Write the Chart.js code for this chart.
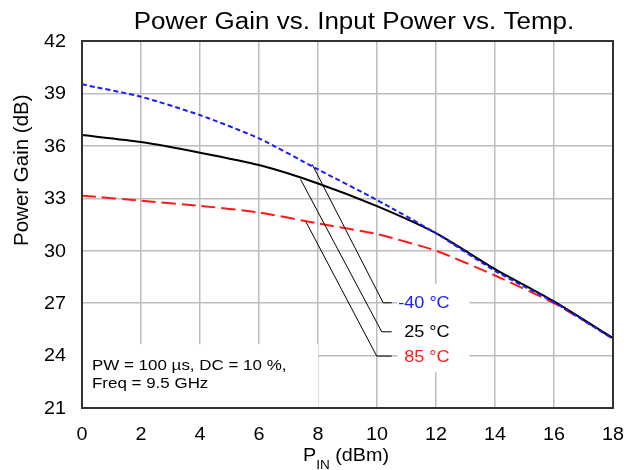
<!DOCTYPE html>
<html>
<head>
<meta charset="utf-8">
<script src="https://cdn.jsdelivr.net/npm/chart.js@4.4.1/dist/chart.umd.min.js"></script>
<style>
html,body{margin:0;padding:0;background:#fff;}
#wrap{width:640px;height:470px;position:relative;}
</style>
</head>
<body>
<div id="wrap"><canvas id="c" width="640" height="470"></canvas></div>
<script>
// ---- data ----
const pinValues = [0, 2, 4, 6, 8, 10, 12, 14, 16, 18];
const gainMinus40 = [39.52, 38.81, 37.76, 36.43, 34.65, 32.9, 31.0, 28.85, 27.05, 24.95];
const gain25 = [36.62, 36.22, 35.61, 34.9, 33.85, 32.55, 31.0, 28.95, 27.1, 25.0];
const gain85 = [33.15, 32.86, 32.57, 32.19, 31.56, 30.95, 30.0, 28.58, 27.0, 25.0];
const seriesLabels = ['-40 °C', '25 °C', '85 °C'];
const xTicks = [0, 2, 4, 6, 8, 10, 12, 14, 16, 18];
const yTicks = [21, 24, 27, 30, 33, 36, 39, 42];
const titleText = 'Power Gain vs. Input Power vs. Temp.';
const yTitle = 'Power Gain (dB)';
const noteLines = ['PW = 100 µs, DC = 10 %,', 'Freq = 9.5 GHz'];

const FONT = '"Liberation Sans", Arial, sans-serif';
const SX = 1.13; // horizontal text stretch seen in the reference
const pts = ys => pinValues.map((x, i) => ({x: x, y: ys[i]}));

function txt(ctx, s, x, y, align, font, color) {
  ctx.save();
  ctx.translate(x, y);
  ctx.scale(SX, 1);
  ctx.font = font;
  ctx.fillStyle = color || '#000';
  ctx.textAlign = align;
  ctx.fillText(s, 0, 0);
  const w = ctx.measureText(s).width * SX;
  ctx.restore();
  return w;
}

const overlay = {
  id: 'overlay',
  beforeDatasetsDraw(chart) {
    const {ctx} = chart;
    const xs = chart.scales.x, ys = chart.scales.y;
    ctx.save();
    ctx.fillStyle = '#ffffff';
    // legend label box
    const lx0 = xs.getPixelForValue(10.69), lx1 = xs.getPixelForValue(13.13);
    const ly0 = ys.getPixelForValue(28.1), ly1 = ys.getPixelForValue(23.05);
    ctx.fillRect(lx0, ly0, lx1 - lx0, ly1 - ly0);
    // note box
    const nx0 = xs.getPixelForValue(0) + 1, nx1 = xs.getPixelForValue(8.0);
    const ny0 = ys.getPixelForValue(24.65), ny1 = ys.getPixelForValue(21) - 1;
    ctx.fillRect(nx0, ny0, nx1 - nx0, ny1 - ny0);
    ctx.restore();
  },
  afterDatasetsDraw(chart) {
    const {ctx, chartArea: a} = chart;
    const xs = chart.scales.x, ys = chart.scales.y;
    const P = (x, y) => [xs.getPixelForValue(x), ys.getPixelForValue(y)];
    ctx.save();
    // frame
    ctx.strokeStyle = '#333333';
    ctx.lineWidth = 2;
    ctx.strokeRect(a.left, a.top, a.right - a.left, a.bottom - a.top);
    // leader lines
    const leaders = [
      [[7.8, 34.95], [10.21, 27.02], [10.5, 27.02]],
      [[7.41, 34.08], [10.16, 25.36], [10.5, 25.36]],
      [[7.59, 31.66], [9.99, 23.97], [10.5, 23.97]]
    ];
    ctx.strokeStyle = '#000';
    ctx.lineWidth = 1;
    leaders.forEach(l => {
      ctx.beginPath();
      l.forEach((p, i) => {
        const [px, py] = P(p[0], p[1]);
        if (i === 0) ctx.moveTo(px, py); else ctx.lineTo(px, py);
      });
      ctx.stroke();
    });
    // labels
    ctx.textBaseline = 'middle';
    const labCol = ['#1a1aff', '#000000', '#ff1a1a'];
    const labPos = [[10.72, 27.02], [10.92, 25.36], [10.92, 23.97]];
    seriesLabels.forEach((t, i) => {
      const [px, py] = P(labPos[i][0], labPos[i][1]);
      txt(ctx, t, px, py + 1, 'left', '16px ' + FONT, labCol[i]);
    });
    // note
    ctx.textBaseline = 'alphabetic';
    const y24 = ys.getPixelForValue(24);
    txt(ctx, noteLines[0], a.left + 10, y24 + 14, 'left', '15px ' + FONT);
    txt(ctx, noteLines[1], a.left + 10, y24 + 32, 'left', '15px ' + FONT);
    ctx.restore();
  },
  afterDraw(chart) {
    const {ctx, chartArea: a} = chart;
    const xs = chart.scales.x, ys = chart.scales.y;
    ctx.save();
    ctx.textBaseline = 'alphabetic';
    // tick labels
    xTicks.forEach(v => txt(ctx, String(v), xs.getPixelForValue(v), 440, 'center', '17.5px ' + FONT));
    ctx.textBaseline = 'middle';
    yTicks.forEach(v => txt(ctx, String(v), 66, ys.getPixelForValue(v) + 1, 'right', '17.5px ' + FONT));
    ctx.textBaseline = 'alphabetic';
    // title
    txt(ctx, titleText, 354, 29, 'center', '23px ' + FONT);
    // y title
    ctx.save();
    ctx.translate(28, 246);
    ctx.rotate(-Math.PI / 2);
    ctx.font = '20.5px ' + FONT;
    ctx.fillStyle = '#000';
    ctx.textAlign = 'left';
    ctx.fillText(yTitle, 0, 0);
    ctx.restore();
    // x title with subscript
    let x = 303;
    const base = 461;
    x += txt(ctx, 'P', x, base, 'left', '17.5px ' + FONT);
    x += txt(ctx, 'IN', x, base + 8, 'left', '12px ' + FONT);
    txt(ctx, ' (dBm)', x, base, 'left', '17.5px ' + FONT);
    ctx.restore();
  }
};

new Chart(document.getElementById('c'), {
  type: 'line',
  data: {
    datasets: [
      {label: seriesLabels[0], data: pts(gainMinus40), borderColor: '#1a1aff', borderWidth: 2, borderDash: [5, 3], pointRadius: 0, tension: 0.2, fill: false},
      {label: seriesLabels[1], data: pts(gain25), borderColor: '#000000', borderWidth: 2, pointRadius: 0, tension: 0.2, fill: false},
      {label: seriesLabels[2], data: pts(gain85), borderColor: '#ff1a1a', borderWidth: 2, borderDash: [14, 6], pointRadius: 0, tension: 0.2, fill: false}
    ]
  },
  options: {
    responsive: false,
    animation: false,
    devicePixelRatio: 1,
    layout: {padding: {top: 41, right: 27, left: 0, bottom: 0}},
    plugins: {legend: {display: false}, title: {display: false}, tooltip: {enabled: false}},
    scales: {
      x: {
        type: 'linear', min: 0, max: 18,
        afterBuildTicks: s => { s.ticks = xTicks.map(v => ({value: v})); },
        afterFit: s => { s.height = 62; },
        ticks: {display: false},
        grid: {color: '#bdbdbd', lineWidth: 1.5, drawTicks: false},
        border: {display: false}
      },
      y: {
        type: 'linear', min: 21, max: 42,
        afterBuildTicks: s => { s.ticks = yTicks.map(v => ({value: v})); },
        afterFit: s => { s.width = 82; },
        ticks: {display: false},
        grid: {color: '#bdbdbd', lineWidth: 1.5, drawTicks: false},
        border: {display: false}
      }
    }
  },
  plugins: [overlay]
});
</script>
</body>
</html>
